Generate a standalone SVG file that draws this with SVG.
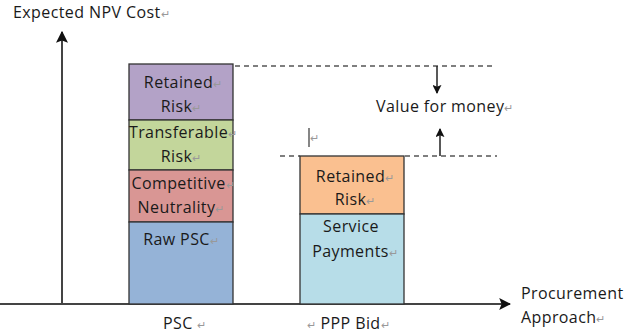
<svg xmlns="http://www.w3.org/2000/svg" width="637" height="335" viewBox="0 0 637 335">
<defs>
<style>
text{font-family:"Open Sans","Liberation Sans",sans-serif;font-size:16px;letter-spacing:0.4px;fill:#1a1a1a}
.c{text-anchor:middle}
.m{fill:#999;font-size:11px;letter-spacing:0}
.box{stroke:#333;stroke-width:1.3}
.ax{stroke:#444;stroke-width:2;fill:none}
.dash{stroke:#555;stroke-width:1.3;stroke-dasharray:5,4;fill:none}
.ar{stroke:#222;stroke-width:1.5;fill:none}
</style>
<marker id="ah" viewBox="0 0 10 10" refX="9" refY="5" markerWidth="6" markerHeight="6" orient="auto-start-reverse">
<path d="M0,0 L10,5 L0,10 L2,5 z" fill="#111"/>
</marker>
</defs>
<rect width="637" height="335" fill="#fff"/>
<g id="connectors">
<line class="ax" x1="62" y1="304" x2="62" y2="32" marker-end="url(#ah)"/>
<line class="ax" x1="0" y1="304" x2="510" y2="304" marker-end="url(#ah)"/>
<line class="dash" x1="235" y1="66" x2="495" y2="66"/>
<line class="dash" x1="280" y1="156" x2="300" y2="156"/>
<line class="dash" x1="405" y1="156" x2="497" y2="156"/>
<line class="ar" x1="437" y1="66" x2="437" y2="93" marker-end="url(#ah)"/>
<line class="ar" x1="440" y1="156" x2="440" y2="129" marker-end="url(#ah)"/>
<line x1="309" y1="128" x2="309" y2="147" stroke="#444" stroke-width="1.3"/>
</g>
<g id="axis-labels">
<text x="13" y="18">Expected NPV Cost<tspan class="m">↵</tspan></text>
<text x="521" y="299">Procurement</text>
<text x="521" y="323">Approach<tspan class="m">↵</tspan></text>
<text x="376" y="112">Value for money<tspan class="m">↵</tspan></text>
<text x="310" y="142" class="m">↵</text>
</g>
<g id="psc-retained">
<rect class="box" x="129" y="64" width="104" height="56" fill="#b3a2c7"/>
<text class="c" x="183" y="88">Retained<tspan class="m">↵</tspan></text>
<text class="c" x="181" y="112">Risk<tspan class="m">↵</tspan></text>
</g>
<g id="psc-transferable">
<rect class="box" x="129" y="120" width="104" height="50" fill="#c3d69b"/>
<text class="c" x="183" y="138">Transferable<tspan class="m">↵</tspan></text>
<text class="c" x="181" y="162">Risk<tspan class="m">↵</tspan></text>
</g>
<g id="psc-competitive">
<rect class="box" x="129" y="170" width="104" height="52" fill="#d99694"/>
<text class="c" x="183" y="189">Competitive<tspan class="m">↵</tspan></text>
<text class="c" x="181" y="213">Neutrality<tspan class="m">↵</tspan></text>
</g>
<g id="psc-raw">
<rect class="box" x="129" y="222" width="104" height="82" fill="#95b3d7"/>
<text class="c" x="181" y="245">Raw PSC<tspan class="m">↵</tspan></text>
</g>
<g id="ppp-retained">
<rect class="box" x="300" y="156" width="104" height="58" fill="#fac090"/>
<text class="c" x="355" y="182">Retained<tspan class="m">↵</tspan></text>
<text class="c" x="355" y="205">Risk<tspan class="m">↵</tspan></text>
</g>
<g id="ppp-service">
<rect class="box" x="300" y="214" width="104" height="90" fill="#b7dde8"/>
<text class="c" x="351" y="232">Service</text>
<text class="c" x="355" y="257">Payments<tspan class="m">↵</tspan></text>
</g>
<g id="bar-labels">
<text x="163" y="329">PSC  <tspan class="m">↵</tspan></text>
<text x="307" y="329"><tspan class="m">↵</tspan> PPP Bid<tspan class="m">↵</tspan></text>
</g>
</svg>
